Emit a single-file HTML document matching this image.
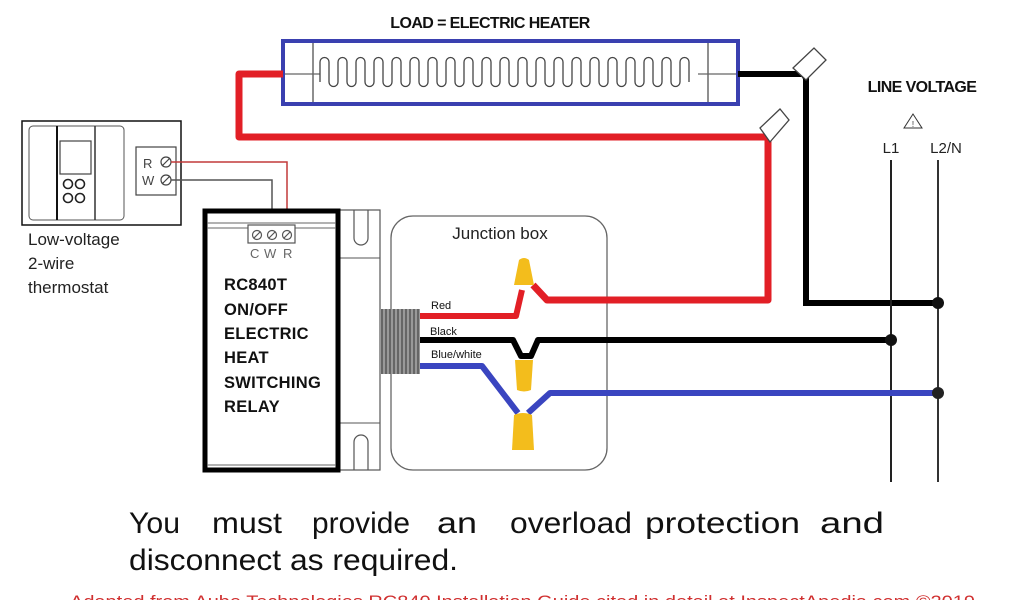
<!DOCTYPE html>
<html><head><meta charset="utf-8"><style>
html,body{margin:0;padding:0;background:#fff;width:1024px;height:600px;overflow:hidden}
svg{display:block}
</style></head><body>
<svg width="1024" height="600" viewBox="0 0 1024 600" xmlns="http://www.w3.org/2000/svg" font-family="Liberation Sans, sans-serif">
<!-- heater -->
<text x="490" y="28" font-size="16" font-weight="bold" text-anchor="middle" fill="#111" style="letter-spacing:-0.6px">LOAD = ELECTRIC HEATER</text>
<rect x="283" y="41" width="455" height="63" fill="#fff" stroke="#3a40b0" stroke-width="4"/>
<line x1="313" y1="43" x2="313" y2="102" stroke="#444" stroke-width="1.2"/>
<line x1="708" y1="43" x2="708" y2="102" stroke="#444" stroke-width="1.2"/>
<line x1="285" y1="74" x2="320" y2="74" stroke="#666" stroke-width="1.2"/>
<line x1="698" y1="74" x2="736" y2="74" stroke="#666" stroke-width="1.2"/>
<path d="M320,74 v8 v-20 a4.5,4.5 0 0 1 9,0 v20 a4.5,4.5 0 0 0 9,0 v-20 a4.5,4.5 0 0 1 9,0 v20 a4.5,4.5 0 0 0 9,0 v-20 a4.5,4.5 0 0 1 9,0 v20 a4.5,4.5 0 0 0 9,0 v-20 a4.5,4.5 0 0 1 9,0 v20 a4.5,4.5 0 0 0 9,0 v-20 a4.5,4.5 0 0 1 9,0 v20 a4.5,4.5 0 0 0 9,0 v-20 a4.5,4.5 0 0 1 9,0 v20 a4.5,4.5 0 0 0 9,0 v-20 a4.5,4.5 0 0 1 9,0 v20 a4.5,4.5 0 0 0 9,0 v-20 a4.5,4.5 0 0 1 9,0 v20 a4.5,4.5 0 0 0 9,0 v-20 a4.5,4.5 0 0 1 9,0 v20 a4.5,4.5 0 0 0 9,0 v-20 a4.5,4.5 0 0 1 9,0 v20 a4.5,4.5 0 0 0 9,0 v-20 a4.5,4.5 0 0 1 9,0 v20 a4.5,4.5 0 0 0 9,0 v-20 a4.5,4.5 0 0 1 9,0 v20 a4.5,4.5 0 0 0 9,0 v-20 a4.5,4.5 0 0 1 9,0 v20 a4.5,4.5 0 0 0 9,0 v-20 a4.5,4.5 0 0 1 9,0 v20 a4.5,4.5 0 0 0 9,0 v-20 a4.5,4.5 0 0 1 9,0 v20 a4.5,4.5 0 0 0 9,0 v-20 a4.5,4.5 0 0 1 9,0 v20 a4.5,4.5 0 0 0 9,0 v-20 a4.5,4.5 0 0 1 9,0 v20 a4.5,4.5 0 0 0 9,0 v-20 a4.5,4.5 0 0 1 9,0 v20 a4.5,4.5 0 0 0 9,0 v-20 a4.5,4.5 0 0 1 9,0 v20 a4.5,4.5 0 0 0 9,0 v-20 a4.5,4.5 0 0 1 9,0 v20 a4.5,4.5 0 0 0 9,0 v-20 a4.5,4.5 0 0 1 9,0 v20 v-8" fill="none" stroke="#444" stroke-width="1.3"/>
<!-- black heater wire -->
<polyline points="738,74 803,74 806,78 806,303 940,303" fill="none" stroke="#000" stroke-width="6"/>
<!-- line voltage -->
<text x="922" y="92" font-size="16" font-weight="bold" text-anchor="middle" fill="#111" style="letter-spacing:-0.6px">LINE VOLTAGE</text>
<polygon points="913,114 904,128 922,128" fill="none" stroke="#333" stroke-width="1"/>
<text x="913" y="127" font-size="8" text-anchor="middle" fill="#333">!</text>
<text x="891" y="153" font-size="15" text-anchor="middle" fill="#222">L1</text>
<text x="946" y="153" font-size="15" text-anchor="middle" fill="#222">L2/N</text>
<line x1="891" y1="160" x2="891" y2="482" stroke="#222" stroke-width="2"/>
<line x1="938" y1="160" x2="938" y2="482" stroke="#333" stroke-width="2"/>
<!-- thermostat -->
<rect x="22" y="121" width="159" height="104" fill="#fff" stroke="#111" stroke-width="1.5"/>
<rect x="29" y="126" width="95" height="94" rx="4" fill="#fff" stroke="#555" stroke-width="1"/>
<line x1="57" y1="126" x2="57" y2="220" stroke="#111" stroke-width="2"/>
<line x1="95" y1="126" x2="95" y2="220" stroke="#333" stroke-width="1.5"/>
<rect x="60" y="141" width="31" height="33" fill="#fff" stroke="#444" stroke-width="1.2"/>
<g fill="none" stroke="#222" stroke-width="1.6"><circle cx="68" cy="184" r="4.5"/><circle cx="80" cy="184" r="4.5"/><circle cx="68" cy="198" r="4.5"/><circle cx="80" cy="198" r="4.5"/></g>
<rect x="136" y="147" width="40" height="48" fill="#fff" stroke="#444" stroke-width="1.2"/>
<text x="143" y="168" font-size="13" fill="#444">R</text>
<text x="142" y="185" font-size="13" fill="#444">W</text>
<g fill="none" stroke="#444" stroke-width="1.2"><circle cx="166" cy="162" r="5"/><circle cx="166" cy="180" r="5"/><line x1="162" y1="166" x2="170" y2="158"/><line x1="162" y1="184" x2="170" y2="176"/></g>
<polyline points="171,162 287,162 287,232" fill="none" stroke="#c23a3a" stroke-width="1.5"/>
<polyline points="171,180 272,180 272,232" fill="none" stroke="#555" stroke-width="1.5"/>
<text x="28" y="245" font-size="17" fill="#222">Low-voltage</text>
<text x="28" y="269" font-size="17" fill="#222">2-wire</text>
<text x="28" y="293" font-size="17" fill="#222">thermostat</text>
<!-- bracket -->
<rect x="338" y="210" width="42" height="260" fill="#fff" stroke="#555" stroke-width="1.2"/>
<line x1="338" y1="258" x2="380" y2="258" stroke="#555"/>
<line x1="338" y1="423" x2="380" y2="423" stroke="#555"/>
<path d="M354,210 v28 a7,7 0 0 0 14,0 v-28" fill="none" stroke="#555" stroke-width="1.2"/>
<path d="M354,470 v-28 a7,7 0 0 1 14,0 v28" fill="none" stroke="#555" stroke-width="1.2"/>
<!-- relay -->
<rect x="205" y="211" width="133" height="259" fill="#fff" stroke="#000" stroke-width="5"/>
<line x1="207" y1="223" x2="336" y2="223" stroke="#666"/>
<line x1="207" y1="228" x2="336" y2="228" stroke="#666"/>
<line x1="207" y1="465" x2="336" y2="465" stroke="#666"/>
<rect x="248" y="225" width="47" height="18" fill="#fff" stroke="#555" stroke-width="1.2"/>
<g fill="none" stroke="#555" stroke-width="1.2"><circle cx="257" cy="235" r="4.5"/><circle cx="272" cy="235" r="4.5"/><circle cx="287" cy="235" r="4.5"/><line x1="254" y1="238" x2="260" y2="232"/><line x1="269" y1="238" x2="275" y2="232"/><line x1="284" y1="238" x2="290" y2="232"/></g>
<text x="250" y="258" font-size="13" fill="#666">C</text>
<text x="264" y="258" font-size="13" fill="#666">W</text>
<text x="283" y="258" font-size="13" fill="#666">R</text>
<g font-size="16.5" font-weight="bold" fill="#111" style="letter-spacing:0.3px">
<text x="224" y="290">RC840T</text>
<text x="224" y="315">ON/OFF</text>
<text x="224" y="339">ELECTRIC</text>
<text x="224" y="363">HEAT</text>
<text x="224" y="388">SWITCHING</text>
<text x="224" y="412">RELAY</text>
</g>
<!-- junction box -->
<rect x="391" y="216" width="216" height="254" rx="22" fill="#fff" stroke="#666" stroke-width="1.3"/>
<text x="500" y="239" font-size="17" text-anchor="middle" fill="#222">Junction box</text>
<!-- red loop from heater -->
<polyline points="283,74 239,74 239,137 768,137 768,300 547,300 533,285" fill="none" stroke="#e21f26" stroke-width="7" stroke-linejoin="round"/>
<!-- wire connectors (heater) -->
<polygon points="793,68 814,48 826,60 806,80" fill="#fff" stroke="#444" stroke-width="1.3"/>
<polygon points="760,128 780,109 789,120 770,142" fill="#fff" stroke="#444" stroke-width="1.3"/>
<!-- conduit -->
<rect x="380" y="309" width="40" height="65" fill="#999"/>
<g stroke="#333" stroke-width="1">
<line x1="382" y1="309" x2="382" y2="374"/><line x1="386" y1="309" x2="386" y2="374"/><line x1="390" y1="309" x2="390" y2="374"/><line x1="394" y1="309" x2="394" y2="374"/><line x1="398" y1="309" x2="398" y2="374"/><line x1="402" y1="309" x2="402" y2="374"/><line x1="406" y1="309" x2="406" y2="374"/><line x1="410" y1="309" x2="410" y2="374"/><line x1="414" y1="309" x2="414" y2="374"/><line x1="418" y1="309" x2="418" y2="374"/>
</g>
<!-- wires in box -->
<polyline points="420,316 516,316 522,290" fill="none" stroke="#e21f26" stroke-width="6" stroke-linejoin="round"/>
<polyline points="420,340 513,340 521,356 531,356 538,340 893,340" fill="none" stroke="#000" stroke-width="6" stroke-linejoin="round"/>
<polyline points="420,366 482,366 518,413" fill="none" stroke="#3a45c0" stroke-width="6" stroke-linejoin="round"/>
<polyline points="528,413 550,393 938,393" fill="none" stroke="#3a45c0" stroke-width="6" stroke-linejoin="round"/>
<text x="431" y="309" font-size="11" fill="#111">Red</text>
<text x="430" y="335" font-size="11" fill="#111">Black</text>
<text x="431" y="358" font-size="11" fill="#111">Blue/white</text>
<!-- wire nuts -->
<path d="M519,260 q5,-4 10,0 l2,10 l3,15 h-20 l3,-15 z" fill="#f3bd1c"/>
<path d="M515,360 h18 l-2,30 q-7,3 -14,0 z" fill="#f3bd1c"/>
<path d="M514,415 q9,-4 18,0 l2,35 h-22 z" fill="#f3bd1c"/>
<!-- dots -->
<circle cx="938" cy="303" r="6" fill="#111"/>
<circle cx="891" cy="340" r="6" fill="#111"/>
<circle cx="938" cy="393" r="6" fill="#222"/>
<!-- bottom text -->
<g font-size="30" fill="#111">
<text x="129" y="533" textLength="51" lengthAdjust="spacingAndGlyphs">You</text>
<text x="212" y="533" textLength="70" lengthAdjust="spacingAndGlyphs">must</text>
<text x="312" y="533" textLength="98" lengthAdjust="spacingAndGlyphs">provide</text>
<text x="437" y="533" textLength="40" lengthAdjust="spacingAndGlyphs">an</text>
<text x="510" y="533" textLength="122" lengthAdjust="spacingAndGlyphs">overload</text>
<text x="645" y="533" textLength="155" lengthAdjust="spacingAndGlyphs">protection</text>
<text x="820" y="533" textLength="64" lengthAdjust="spacingAndGlyphs">and</text>
<text x="129" y="570" textLength="329" lengthAdjust="spacingAndGlyphs">disconnect as required.</text>
</g>
<text x="70" y="607" font-size="17" fill="#d03030" textLength="905" lengthAdjust="spacingAndGlyphs">Adapted from Aube Technologies RC840 Installation Guide cited in detail at InspectApedia.com ©2019</text>
</svg>
</body></html>
